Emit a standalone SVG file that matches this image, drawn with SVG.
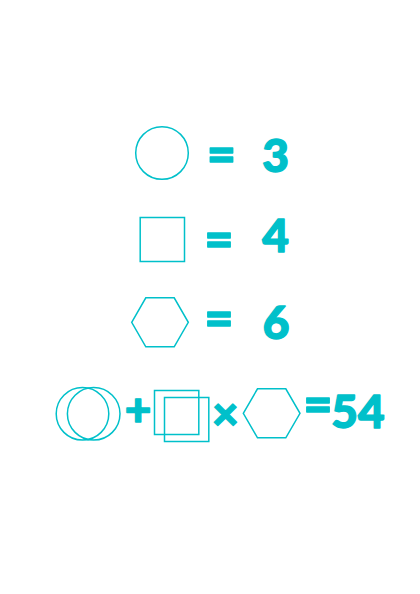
<svg xmlns="http://www.w3.org/2000/svg" width="420" height="594" viewBox="0 0 420 594">
<style>
.s{fill:none;stroke:#00C0CA;stroke-width:1.5}
.t{fill:#00C0CA;stroke:#00C0CA;stroke-width:1.4;stroke-linejoin:round;font-family:Lato,"Open Sans",sans-serif;font-weight:900;font-size:46px;text-anchor:middle}
.e{font-size:50px}
</style>
<rect width="420" height="594" fill="#fff"/>
<g id="row1">
<circle class="s" cx="162" cy="153" r="26.3"/>
<text class="t e" x="221.5" y="172">=</text>
<text class="t" x="275.5" y="171.5">3</text>
</g>
<g id="row2">
<rect class="s" x="140.2" y="217.5" width="44.3" height="44"/>
<text class="t e" x="219" y="257">=</text>
<text class="t" x="275.5" y="252.2">4</text>
</g>
<g id="row3">
<polygon class="s" points="131.7,322.3 145.8,297.8 174.2,297.8 188.3,322.3 174.2,346.8 145.8,346.8"/>
<text class="t e" x="219" y="336.2">=</text>
<text class="t" x="276" y="338.8">6</text>
</g>
<g id="row4">
<circle class="s" cx="82.5" cy="413.8" r="26.3"/>
<circle class="s" cx="93.7" cy="413.8" r="26.3"/>
<text class="t" x="138" y="425.5">+</text>
<rect class="s" x="154.5" y="390.5" width="44.3" height="44"/>
<rect class="s" x="164.5" y="397.5" width="44.3" height="44"/>
<text class="t" x="225.3" y="429.5">×</text>
<polygon class="s" points="243.3,413.3 257.5,388.8 285.8,388.8 300,413.3 285.8,437.8 257.5,437.8"/>
<text class="t e" x="318" y="422">=</text>
<text class="t" x="358" y="428">54</text>
</g>
</svg>
